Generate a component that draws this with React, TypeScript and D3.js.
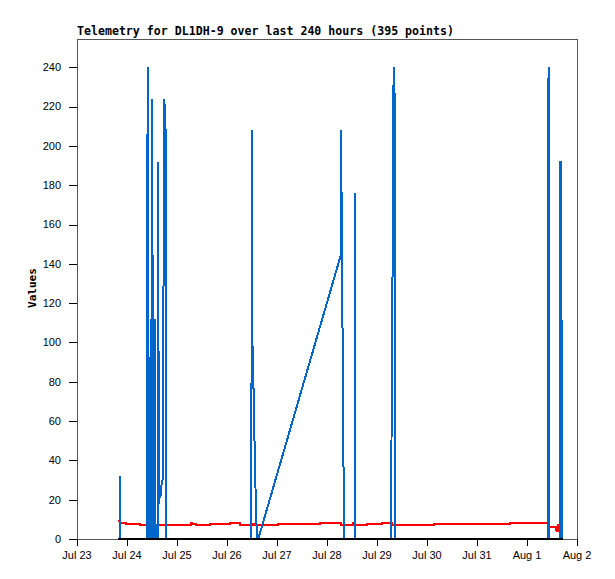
import * as d3 from 'd3';

// hours counted from Jul 23 00:00
const BASE = Date.UTC(2024, 6, 23);
const START_DAY = Date.UTC(2024, 6, 23);
const END_DAY = Date.UTC(2024, 7, 2);

const blueSeries: [number, number][] = [
	[19.5, 0], [20.45, 0], [20.5, 32], [20.7, 0],
	[33.65, 0], [33.7, 192], [34.2, 240], [34.4, 0],
	[35.45, 0], [35.5, 112], [35.9, 0], [36.1, 224], [36.5, 0],
	[36.9, 112], [37.3, 0], [37.5, 112], [37.7, 0],
	[38.85, 0], [38.9, 192], [39.3, 18], [39.9, 24], [40.2, 22],
	[40.5, 27], [41.0, 30], [41.3, 31], [41.6, 160], [41.9, 224],
	[42.5, 208], [42.8, 0],
	[83.75, 0], [83.8, 208], [84.2, 100], [84.7, 78], [85.1, 56],
	[85.5, 34], [86.0, 12], [86.4, 0], [87.0, 0],
	[126.5, 144], [126.8, 208], [127.3, 112], [127.8, 96], [128.0, 0],
	[133.35, 0], [133.4, 176], [133.6, 0],
	[150.85, 0], [150.9, 40], [151.4, 120], [151.7, 200], [152.0, 240],
	[152.5, 224], [152.8, 0],
	[225.95, 0], [226.0, 224], [226.5, 240], [226.8, 0],
	[231.75, 0], [231.8, 192], [232.3, 192], [232.8, 40], [233.0, 0],
];

const redSeries: [number, number][] = [
	[19.5, 9], [20.5, 8], [23.5, 7.5], [30.2, 7], [37.9, 6.5], [38.4, 7],
	[54.7, 8], [55.2, 7.5], [57.1, 7], [63.8, 7.5], [73.4, 8], [78.2, 7],
	[84.5, 7.5], [85.4, 7], [96.5, 7.5], [116.6, 8], [126.7, 7], [132.5, 8],
	[133.0, 7], [139.2, 7.5], [146.4, 8], [151.2, 7], [171.4, 7.5],
	[207.8, 8], [226.5, 6], [229.8, 4.8], [230.5, 4], [230.7, 7], [231.7, 7],
];

const blackSeries: [number, number][] = [
	[19.5, 0], [233.1, 0],
];

const yTicks = [0, 20, 40, 60, 80, 100, 120, 140, 160, 180, 200, 220, 240];

const App = () => {
	const margin = {top: 39, right: 38, bottom: 40, left: 77};
	const width = 500;
	const height = 500;

	const x = d3.scaleUtc()
		.domain([new Date(START_DAY), new Date(END_DAY)])
		.range([margin.left, margin.left + width]);

	const y = d3.scaleLinear()
		.domain([0, 254.4])
		.range([margin.top + height, margin.top]);

	const toDate = (h: number) => new Date(BASE + h * 3600 * 1000);

	const line = d3.line<[number, number]>()
		.x(d => x(toDate(d[0])))
		.y(d => y(d[1]));

	const stepLine = d3.line<[number, number]>()
		.x(d => x(toDate(d[0])))
		.y(d => y(d[1]))
		.curve(d3.curveStepAfter);

	const days = x.ticks(d3.utcDay.every(1)!);
	const fmt = d3.utcFormat("%b %-d");

	const mono = "'DejaVu Sans Mono', monospace";
	const sans = "'Liberation Sans', Arial, sans-serif";

	return (
		<svg width={615} height={579} style={{position: 'absolute', left: 0, top: 0, background: '#fff'}}>
			<text x={77} y={35} fontFamily={mono} fontWeight="bold" fontSize={11.4}
				textLength={377} lengthAdjust="spacingAndGlyphs">
				Telemetry for DL1DH-9 over last 240 hours (395 points)
			</text>

			<rect x={margin.left + 0.5} y={margin.top + 0.5} width={width} height={height}
				fill="none" stroke="#555" shapeRendering="crispEdges" />

			{yTicks.map(t => (
				<g key={t}>
					<line x1={margin.left - 8} x2={margin.left} y1={Math.round(y(t)) + 0.5} y2={Math.round(y(t)) + 0.5}
						stroke="#000" shapeRendering="crispEdges" />
					<text x={61} y={y(t)} dy="0.35em" textAnchor="end" fontFamily={sans} fontSize={11}>{t}</text>
				</g>
			))}

			{days.map(d => (
				<g key={+d}>
					<line x1={Math.round(x(d)) + 0.5} x2={Math.round(x(d)) + 0.5}
						y1={margin.top + height} y2={margin.top + height + 7}
						stroke="#000" shapeRendering="crispEdges" />
					<text x={x(d)} y={559} textAnchor="middle" fontFamily={sans} fontSize={11}>{fmt(d)}</text>
				</g>
			))}

			<text transform="translate(36,288) rotate(-90)" textAnchor="middle"
				fontFamily={mono} fontWeight="bold" fontSize={11}>Values</text>

			<path d={stepLine(redSeries)!} fill="none" stroke="#ff0000" strokeWidth={2} shapeRendering="crispEdges" />
			<path d={line(blueSeries)!} fill="none" stroke="#0066cc" strokeWidth={2}
				strokeLinejoin="bevel" shapeRendering="crispEdges" />
			<path d={line(blackSeries)!} fill="none" stroke="#000" strokeWidth={2} shapeRendering="crispEdges" />
		</svg>
	);
};

export default App;
